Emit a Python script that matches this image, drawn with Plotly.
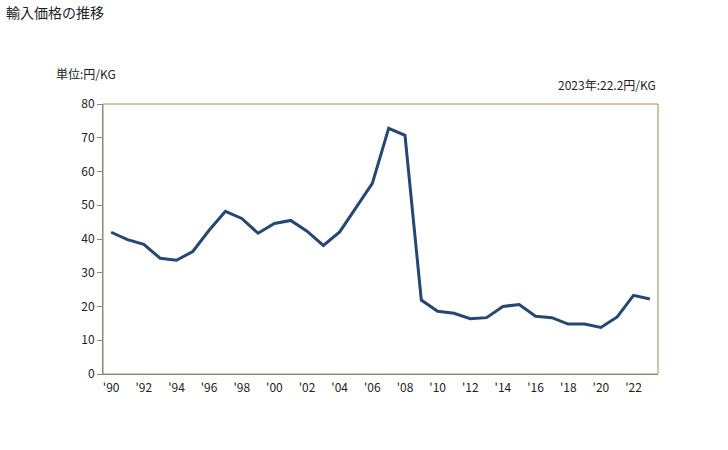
import plotly.graph_objects as go

years = list(range(1990, 2024))
values = [42.0, 39.8, 38.4, 34.3, 33.7, 36.3, 42.6, 48.2, 46.1, 41.7, 44.6, 45.5, 42.3,
          38.1, 42.1, 49.4, 56.5, 72.8, 70.7, 21.9, 18.6, 18.0, 16.4, 16.7, 20.0, 20.6,
          17.1, 16.7, 14.8, 14.8, 13.8, 16.9, 23.3, 22.2]
tick_years = list(range(1990, 2024, 2))
tick_labels = ["'" + str(y)[2:] for y in tick_years]

FONT = "Noto Sans CJK JP, sans-serif"

fig = go.Figure()
fig.add_trace(go.Scatter(x=years, y=values, mode="lines",
                         line=dict(color="#264673", width=3), showlegend=False))

fig.update_layout(
    width=728, height=450,
    margin=dict(l=103, r=70, t=104, b=76),
    paper_bgcolor="white", plot_bgcolor="white",
    font=dict(family=FONT, size=12, color="#222222"),
    xaxis=dict(range=[1989.5, 2023.5], tickvals=tick_years, ticktext=tick_labels,
               showgrid=False, zeroline=False, showline=True, linecolor="#888888",
               linewidth=1, ticks="outside", ticklen=3, tickcolor="rgba(0,0,0,0)",
               tickfont=dict(size=12)),
    yaxis=dict(range=[0, 80], tickvals=list(range(0, 81, 10)),
               showgrid=False, zeroline=False, showline=True, linecolor="#888888",
               linewidth=1, ticks="outside", ticklen=5, tickcolor="#888888",
               tickfont=dict(size=12)),
    shapes=[dict(type="rect", xref="paper", yref="paper", x0=0, y0=0, x1=1, y1=1,
                 line=dict(color="#9A8C4E", width=1), layer="below")],
    annotations=[
        dict(text="輸入価格の推移", xref="paper", yref="paper", x=-99/555, y=1 + 92/270,
             xanchor="left", yanchor="middle", showarrow=False, font=dict(size=14)),
        dict(text="単位:円/KG", xref="paper", yref="paper", x=-49/555, y=1 + 31/270,
             xanchor="left", yanchor="middle", showarrow=False, font=dict(size=12)),
        dict(text="2023年:22.2円/KG", xref="paper", yref="paper", x=1, y=1 + 19/270,
             xanchor="right", yanchor="middle", showarrow=False, font=dict(size=12)),
    ],
)

fig.write_html("out.html")
